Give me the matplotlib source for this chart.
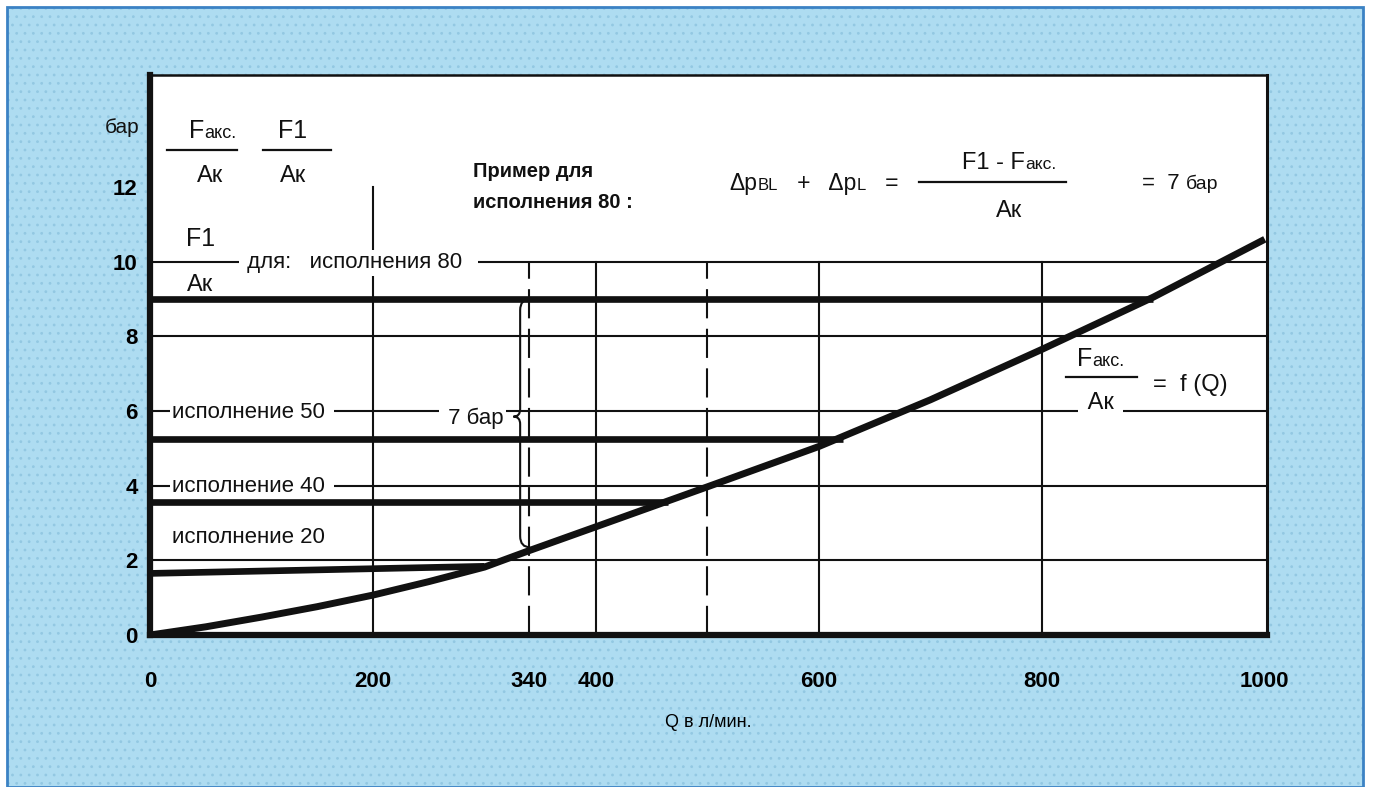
"""Характеристика Fакс./Ак = f(Q) для разных исполнений клапана."""

import matplotlib
matplotlib.use("Agg")
import matplotlib.pyplot as plt
from matplotlib.offsetbox import TextArea, HPacker, AnnotationBbox
from matplotlib.path import Path
from matplotlib.patches import PathPatch, Rectangle

# ---- Data ----
Q_CURVE = [0, 50, 100, 150, 200, 250, 300, 340, 400, 500, 600, 700, 800, 900, 1000]
P_CURVE = [0, 0.22, 0.48, 0.76, 1.07, 1.43, 1.82, 2.26, 2.9, 3.97, 5.05, 6.3, 7.65, 9.05, 10.6]

# thick lines F1/Ak per variant (start/end points, they end on the curve)
V80_Q, V80_P = [0, 900], [9.0, 9.0]
V50_Q, V50_P = [0, 622], [5.25, 5.25]
V40_Q, V40_P = [0, 465], [3.55, 3.55]
V20_Q, V20_P = [0, 300], [1.65, 1.84]

GRID_Y = [2, 4, 6, 8, 10]
GRID_X = [200, 400, 600, 800]
GRID_X_TOP = [12, 10, 10, 10]
DASHED_X = [340, 500]
DASHED_TOP = 10

X_TICKS = [0, 200, 340, 400, 600, 800, 1000]
Y_TICKS = [0, 2, 4, 6, 8, 10, 12]

# brace "7 бар" between 9.0 line and curve at Q=340
BRACE_Q = 332
BRACE_TOP = 9.0
BRACE_BOTTOM = 2.35
BRACE_TIP = 5.85

# ---- Style ----
BG = "#aedcf1"
DOTS = "#93c8e2"
FRAME = "#3b82c4"
INK = "#111111"
FONT = ["Liberation Sans", "DejaVu Sans"]
LBL = 16

plt.rcParams.update({
    "font.family": FONT,
    "font.size": LBL,
    "text.color": INK,
    "hatch.linewidth": 0.8,
})

fig = plt.figure(figsize=(13.73, 7.87), dpi=100)
fig.patch.set_facecolor("white")

# blue dotted panel behind the chart
fig.patches.append(Rectangle((0.005, 0.0), 0.988, 0.991, transform=fig.transFigure,
                             facecolor=BG, edgecolor="none", zorder=-3))
fig.patches.append(Rectangle((0.005, 0.0), 0.988, 0.991, transform=fig.transFigure,
                             fill=False, hatch="..", edgecolor=DOTS, linewidth=0, zorder=-2))
fig.patches.append(Rectangle((0.005, 0.0), 0.988, 0.991, transform=fig.transFigure,
                             fill=False, edgecolor=FRAME, linewidth=2, zorder=-1))

ax = fig.add_axes([0.1093, 0.1931, 0.8135, 0.7116])
ax.set_facecolor("white")
ax.set_xlim(0, 1002)
ax.set_ylim(0, 15)

# ---- Grid ----
for y in GRID_Y:
    ax.plot([0, 1002], [y, y], color=INK, lw=1.5, zorder=1)
for x, top in zip(GRID_X, GRID_X_TOP):
    ax.plot([x, x], [0, top], color=INK, lw=1.5, zorder=1)
for x in DASHED_X:
    ax.plot([x, x], [0, DASHED_TOP], color=INK, lw=1.5, linestyle=(0, (14, 5)), zorder=1)

# ---- Curves ----
ax.plot(Q_CURVE, P_CURVE, color=INK, lw=5, solid_capstyle="butt",
        solid_joinstyle="round", zorder=4)
for q, p in [(V80_Q, V80_P), (V50_Q, V50_P), (V40_Q, V40_P), (V20_Q, V20_P)]:
    ax.plot(q, p, color=INK, lw=4.8, solid_capstyle="butt", zorder=4)

# brace
bv = [
    (BRACE_Q + 9, BRACE_TOP), (BRACE_Q, BRACE_TOP), (BRACE_Q, BRACE_TOP - 0.3),
    (BRACE_Q, BRACE_TIP + 0.2),
    (BRACE_Q, BRACE_TIP), (BRACE_Q - 6, BRACE_TIP),
    (BRACE_Q, BRACE_TIP), (BRACE_Q, BRACE_TIP - 0.2),
    (BRACE_Q, BRACE_BOTTOM + 0.3),
    (BRACE_Q, BRACE_BOTTOM), (BRACE_Q + 9, BRACE_BOTTOM),
]
bc = [Path.MOVETO, Path.CURVE3, Path.CURVE3, Path.LINETO,
      Path.CURVE3, Path.CURVE3, Path.CURVE3, Path.CURVE3,
      Path.LINETO, Path.CURVE3, Path.CURVE3]
ax.add_patch(PathPatch(Path(bv, bc), fill=False, edgecolor=INK, lw=1.5, zorder=3))

# ---- Axes frame / ticks ----
for side, lw in [("left", 4.5), ("bottom", 4.5), ("top", 1.8), ("right", 2.2)]:
    ax.spines[side].set_linewidth(lw)
    ax.spines[side].set_color(INK)
ax.set_xticks(X_TICKS)
ax.set_xticklabels([str(v) for v in X_TICKS])
ax.set_yticks(Y_TICKS)
ax.set_yticklabels([str(v) for v in Y_TICKS])
ax.tick_params(length=0)
ax.tick_params(axis="y", pad=9)
ax.tick_params(axis="x", pad=26)
for lab in ax.get_xticklabels() + ax.get_yticklabels():
    lab.set_fontsize(16)
    lab.set_fontweight("bold")
ax.set_xlabel("Q в л/мин.", fontsize=13, labelpad=16)
ax.text(-10, 13.6, "бар", ha="right", va="center", fontsize=15, clip_on=False)

WHITE = dict(facecolor="white", edgecolor="none", pad=2)


def rich(x, y, parts, align=(0.5, 0.5), z=6):
    """Place mixed-size text (e.g. 'F' + small 'акс.') on one baseline."""
    boxes = [TextArea(t, textprops=dict(fontsize=s, fontweight=w, family=FONT, color=INK))
             for t, s, w in parts]
    pack = HPacker(children=boxes, align="baseline", pad=0, sep=0)
    ab = AnnotationBbox(pack, (x, y), xycoords="data", box_alignment=align,
                        frameon=False, pad=0, annotation_clip=False, zorder=z)
    ax.add_artist(ab)


def fline(x0, x1, y):
    ax.plot([x0, x1], [y, y], color=INK, lw=1.6, zorder=5)


# top-left fractions
rich(56, 13.5, [("F", 18, "normal"), ("акс.", 13, "normal")])
fline(15, 78, 13.0)
ax.text(54, 12.3, "Ак", ha="center", va="center", fontsize=17)
rich(128, 13.5, [("F1", 18, "normal")])
fline(101, 162, 13.0)
ax.text(128, 12.3, "Ак", ha="center", va="center", fontsize=17)

# example caption
ax.text(290, 12.42, "Пример для", ha="left", va="center", fontsize=14.5, fontweight="bold")
ax.text(290, 11.58, "исполнения 80 :", ha="left", va="center", fontsize=14.5, fontweight="bold")

# formula
rich(520, 12.1, [("Δp", 16.5, "normal"), ("BL", 12, "normal"), ("   +   Δp", 16.5, "normal"),
                 ("L", 12, "normal"), ("   =", 16.5, "normal")], align=(0, 0.5))
rich(771, 12.65, [("F1 - F", 17, "normal"), ("акс.", 12.5, "normal")])
fline(690, 822, 12.14)
ax.text(771, 11.35, "Ак", ha="center", va="center", fontsize=17)
rich(890, 12.1, [("=  7 ", 16, "normal"), ("бар", 14, "normal")], align=(0, 0.5))

# F1/Ak for variant 80
rich(45, 10.6, [("F1", 18, "normal")])
ax.text(45, 9.38, "Ак", ha="center", va="center", fontsize=17, zorder=3)
ax.text(82, 9.97, " для:   исполнения 80  ", ha="left", va="center", fontsize=LBL,
        bbox=WHITE, zorder=2)

# variant labels
ax.text(20, 5.97, "исполнение 50 ", ha="left", va="center", fontsize=LBL, bbox=WHITE, zorder=2)
ax.text(262, 5.8, " 7 бар", ha="left", va="center", fontsize=LBL, bbox=WHITE, zorder=2)
ax.text(20, 3.97, "исполнение 40 ", ha="left", va="center", fontsize=LBL, bbox=WHITE, zorder=2)
ax.text(20, 2.6, "исполнение 20", ha="left", va="center", fontsize=LBL, bbox=WHITE, zorder=2)

# right side label F_akc/A_k = f(Q)
rich(853, 7.38, [("F", 18, "normal"), ("акс.", 13, "normal")])
fline(822, 885, 6.92)
ax.text(853, 6.22, " Ак ", ha="center", va="center", fontsize=17, bbox=WHITE, zorder=2)
ax.text(900, 6.7, "=  f (Q)", ha="left", va="center", fontsize=17)

fig.savefig("out.png", dpi=100, facecolor=fig.get_facecolor())
